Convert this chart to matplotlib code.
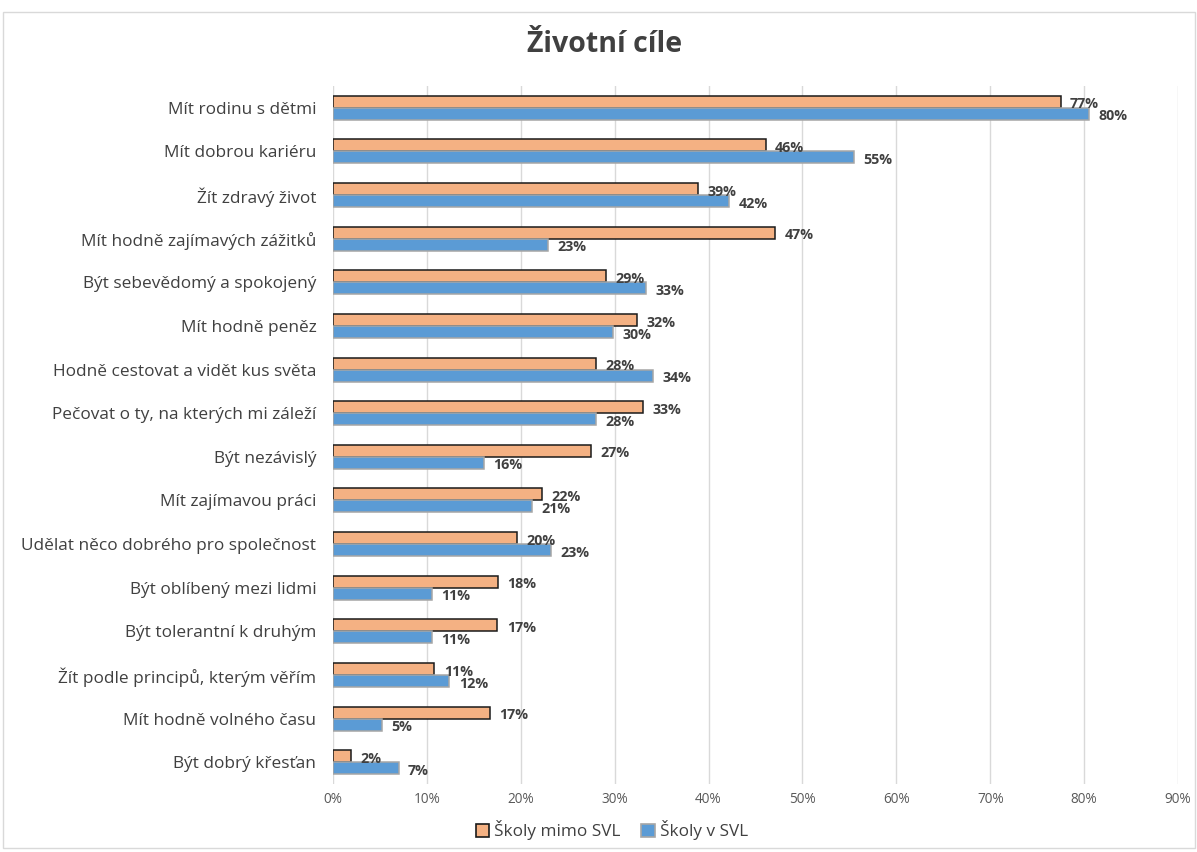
import matplotlib
matplotlib.use("Agg")
import matplotlib.pyplot as plt
from matplotlib.patches import Rectangle
import numpy as np

categories = [
    "Mít rodinu s dětmi",
    "Mít dobrou kariéru",
    "Žít zdravý život",
    "Mít hodně zajímavých zážitků",
    "Být sebevědomý a spokojený",
    "Mít hodně peněz",
    "Hodně cestovat a vidět kus světa",
    "Pečovat o ty, na kterých mi záleží",
    "Být nezávislý",
    "Mít zajímavou práci",
    "Udělat něco dobrého pro společnost",
    "Být oblíbený mezi lidmi",
    "Být tolerantní k druhým",
    "Žít podle principů, kterým věřím",
    "Mít hodně volného času",
    "Být dobrý křesťan",
]
mimo_svl = [77.5, 46.1, 38.9, 47.1, 29.1, 32.4, 28.0, 33.0, 27.5, 22.3, 19.6, 17.6, 17.5, 10.8, 16.7, 1.9]
v_svl = [80.5, 55.5, 42.2, 22.9, 33.3, 29.8, 34.1, 28.0, 16.1, 21.2, 23.2, 10.5, 10.5, 12.4, 5.2, 7.0]
mimo_labels = [77, 46, 39, 47, 29, 32, 28, 33, 27, 22, 20, 18, 17, 11, 17, 2]
v_labels = [80, 55, 42, 23, 33, 30, 34, 28, 16, 21, 23, 11, 11, 12, 5, 7]
xticks = [0, 10, 20, 30, 40, 50, 60, 70, 80, 90]

plt.rcParams['font.family'] = ['Open Sans', 'DejaVu Sans']

W, H = 1197, 852
fig = plt.figure(figsize=(W / 100, H / 100), dpi=100)
fig.patches.append(Rectangle((3 / W, 4 / H), (W - 5) / W, (H - 16) / H,
                             transform=fig.transFigure, fill=False,
                             edgecolor="#d9d9d9", linewidth=1))

left, right = 333, 1178
top, bottom = 86, 784
ax = fig.add_axes([left / W, 1 - bottom / H, (right - left) / W, (bottom - top) / H])

n = len(categories)
y = np.arange(n)
h = 0.275
orange = "#f4b183"
blue = "#5b9bd5"
ax.barh(y - h / 2, mimo_svl, height=h, color=orange, edgecolor="#1a1a1a", linewidth=1.1, zorder=3)
ax.barh(y + h / 2, v_svl, height=h, color=blue, edgecolor="#a6a6a6", linewidth=1.1, zorder=3)

for i in range(n):
    ax.text(mimo_svl[i] + 1.0, y[i] - h / 2 + 0.06, f"{mimo_labels[i]}%", va="center", ha="left",
            fontsize=10.3, fontweight="bold", color="#404040", zorder=4)
    ax.text(v_svl[i] + 1.0, y[i] + h / 2 + 0.06, f"{v_labels[i]}%", va="center", ha="left",
            fontsize=10.3, fontweight="bold", color="#404040", zorder=4)

ax.set_xlim(0, 90)
ax.set_ylim(n - 0.5, -0.5)
ax.set_xticks(xticks)
ax.set_xticklabels([f"{t}%" for t in xticks], fontsize=9.8, color="#595959")
ax.set_yticks(y)
ax.set_yticklabels(categories, fontsize=12.4, color="#404040")
ax.tick_params(axis="both", length=0)
ax.tick_params(axis="x", pad=6)
ax.tick_params(axis="y", pad=12)
ax.grid(axis="x", color="#d9d9d9", linewidth=1, zorder=0)
for s in ax.spines.values():
    s.set_visible(False)

fig.text(605 / W, 1 - 45 / H, "Životní cíle", ha="center", va="center",
         fontsize=20.5, fontweight="bold", color="#404040")

handles = [Rectangle((0, 0), 1, 1, facecolor=orange, edgecolor="#1a1a1a", linewidth=1.2),
           Rectangle((0, 0), 1, 1, facecolor=blue, edgecolor="#a6a6a6", linewidth=1.2)]
fig.legend(handles, ["Školy mimo SVL", "Školy v SVL"], loc="center",
           bbox_to_anchor=(612 / W, 1 - 830 / H), ncol=2, frameon=False,
           fontsize=12.3, handlelength=0.8, handleheight=0.8, handletextpad=0.3,
           columnspacing=1.2, labelcolor="#404040")

fig.savefig("out.png", dpi=100)
